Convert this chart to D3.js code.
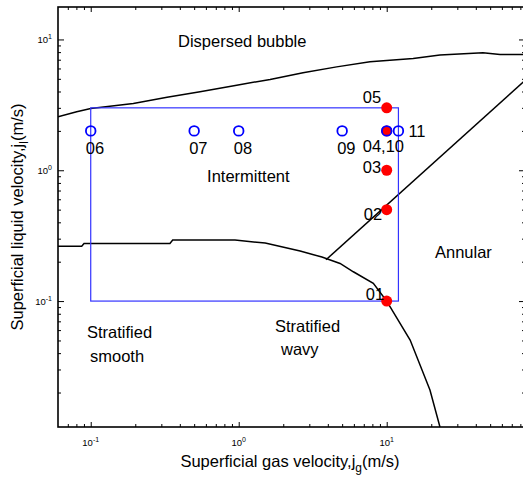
<!DOCTYPE html>
<html>
<head>
<meta charset="utf-8">
<script src="https://cdn.jsdelivr.net/npm/d3@7"></script>
<style>
body { margin: 0; background: #fff; }
text { font-family: "Liberation Sans", Arial, sans-serif; fill: #000; }
</style>
</head>
<body>
<div id="chart"></div>
<script>
// regime boundaries, [jg, jl] in m/s
var bubbleLine = [[0.0601, 2.56], [0.0804, 2.80], [0.1, 2.97], [0.194, 3.24], [0.328, 3.62],
  [0.548, 3.98], [0.969, 4.47], [1.63, 4.95], [2.72, 5.56], [4.59, 6.17], [7.71, 6.74],
  [15.1, 7.16], [22.9, 7.59], [44.7, 7.9], [58.3, 7.68], [86, 7.68]];
var stratLine = [[0.0601, 0.263], [0.0869, 0.263], [0.0901, 0.276], [0.343, 0.276], [0.358, 0.2925],
  [0.944, 0.2925], [1.51, 0.2776], [2.6, 0.241], [3.65, 0.217], [4.84, 0.194], [5.95, 0.1675],
  [8.12, 0.1366], [10, 0.1], [14.4, 0.0504], [19.6, 0.0209], [22.9, 0.0109]];
var annularLine = [[3.89, 0.207], [86, 4.85]];

// test window
var boxJg = [0.1, 12];
var boxJl = [0.1, 3];

// filled test points
var dotNames = ["01", "02", "03", "04", "05"];
var dotJg = [10, 10, 10, 10, 10];
var dotJl = [0.1, 0.5, 1, 2, 3];

// open test points
var ringNames = ["06", "07", "08", "09", "10", "11"];
var ringJg = [0.1, 0.5, 1, 5, 10, 12];
var ringJl = [2, 2, 2, 2, 2, 2];

// regime names, anchored at [jg, jl]
var regionNames = ["Dispersed bubble", "Intermittent", "Annular", "Stratified", "smooth", "Stratified", "wavy"];
var regionJg = [0.389, 0.611, 21.2, 0.0944, 0.0989, 1.758, 1.93];
var regionJl = [8.73, 0.812, 0.2134, 0.0521, 0.0342, 0.058, 0.0386];

var majorTicks = [0.1, 1, 10];

var margin = { top: 7, right: -2, bottom: 51, left: 58 },
  width = 523 - margin.left - margin.right,
  height = 478 - margin.top - margin.bottom;

var svg = d3.select("#chart")
  .append("svg")
  .attr("width", 523)
  .attr("height", 478)
  .append("g")
  .attr("transform", "translate(" + margin.left + "," + margin.top + ")");

var x = d3.scaleLog().domain([0.0601, 86]).range([0, width]);
var y = d3.scaleLog().domain([0.0109, 17.7]).range([height, 0]);

svg.append("clipPath")
  .attr("id", "clip")
  .append("rect")
  .attr("width", width)
  .attr("height", height);

var isMajor = function(v) {
  return majorTicks.some(function(m) { return Math.abs(v / m - 1) < 1e-6; });
};
var minorX = x.ticks().filter(function(v) { return !isMajor(v); });
var minorY = y.ticks().filter(function(v) { return !isMajor(v); });

// inward ticks on all four sides
function addAxis(axis, minor, len, transform) {
  var g = svg.append("g")
    .attr("transform", transform)
    .call(axis.tickValues(minor).tickSize(len).tickFormat(""));
  g.select(".domain").remove();
  g.selectAll("line").attr("stroke", "#000").attr("stroke-width", 1);
}
[[minorX, -3], [majorTicks, -5]].forEach(function(t) {
  addAxis(d3.axisBottom(x), t[0], t[1], "translate(0," + height + ")");
  addAxis(d3.axisTop(x), t[0], t[1], "translate(0,0)");
});
[[minorY, -3], [majorTicks, -6]].forEach(function(t) {
  addAxis(d3.axisLeft(y), t[0], t[1], "translate(0,0)");
  addAxis(d3.axisRight(y), t[0], t[1], "translate(" + width + ",0)");
});

// frame
svg.append("rect")
  .attr("width", width)
  .attr("height", height)
  .attr("fill", "none")
  .attr("stroke", "#000")
  .attr("stroke-width", 1.6);

// tick labels, 10 with a raised exponent
function expLabel(sel, v) {
  sel.append("tspan").text("10");
  sel.append("tspan")
    .attr("dy", -4)
    .attr("font-size", "7px")
    .text(Math.round(Math.log10(v)));
}
majorTicks.forEach(function(v) {
  svg.append("text")
    .attr("x", x(v))
    .attr("y", height + 19)
    .attr("text-anchor", "middle")
    .attr("font-size", "9.5px")
    .call(expLabel, v);
  svg.append("text")
    .attr("x", -6)
    .attr("y", y(v) + 4)
    .attr("text-anchor", "end")
    .attr("font-size", "9.5px")
    .call(expLabel, v);
});

// axis titles
var xTitle = svg.append("text")
  .attr("x", 232)
  .attr("y", height + 40)
  .attr("text-anchor", "middle")
  .attr("font-size", "16.5px");
xTitle.append("tspan").text("Superficial gas velocity,j");
xTitle.append("tspan").attr("dy", 5).attr("font-size", "12px").text("g");
xTitle.append("tspan").attr("dy", -5).text("(m/s)");

var yTitle = svg.append("text")
  .attr("transform", "translate(" + (-35) + "," + (height / 2) + ") rotate(-90)")
  .attr("text-anchor", "middle")
  .attr("font-size", "16.5px");
yTitle.append("tspan").text("Superficial liquid velocity,j");
yTitle.append("tspan").attr("dy", 5).attr("font-size", "12px").text("l");
yTitle.append("tspan").attr("dy", -5).text("(m/s)");

// boundaries
var line = d3.line()
  .x(function(d) { return x(d[0]); })
  .y(function(d) { return y(d[1]); });

var plot = svg.append("g").attr("clip-path", "url(#clip)");

[bubbleLine, stratLine, annularLine].forEach(function(d) {
  plot.append("path")
    .datum(d)
    .attr("d", line)
    .attr("fill", "none")
    .attr("stroke", "#000")
    .attr("stroke-width", 1.5);
});

// test window
plot.append("rect")
  .attr("x", x(boxJg[0]))
  .attr("y", y(boxJl[1]))
  .attr("width", x(boxJg[1]) - x(boxJg[0]))
  .attr("height", y(boxJl[0]) - y(boxJl[1]))
  .attr("fill", "none")
  .attr("stroke", "#3333ff")
  .attr("stroke-width", 1.2);

// region names
regionNames.forEach(function(name, i) {
  svg.append("text")
    .attr("x", x(regionJg[i]))
    .attr("y", y(regionJl[i]))
    .attr("font-size", "16.5px")
    .text(name);
});

// points
dotNames.forEach(function(name, i) {
  svg.append("circle")
    .attr("cx", x(dotJg[i]))
    .attr("cy", y(dotJl[i]))
    .attr("r", 5.5)
    .attr("fill", "#ff0000");
});
ringNames.forEach(function(name, i) {
  svg.append("circle")
    .attr("cx", x(ringJg[i]))
    .attr("cy", y(ringJl[i]))
    .attr("r", 4.8)
    .attr("fill", "none")
    .attr("stroke", "#0000ff")
    .attr("stroke-width", 1.8);
});

// point labels, offset from their point
var labelOffset = {
  "01": [-21, -1], "02": [-23, 10], "03": [-24, 3], "05": [-24, -5],
  "06": [-5, 23], "07": [-5, 23], "08": [-5, 23], "09": [-5, 23], "10": [-24, 21], "11": [10, 6]
};
var labelText = { "10": "04,10" };
var labelPt = dotNames.map(function(n, i) { return [n, dotJg[i], dotJl[i]]; })
  .concat(ringNames.map(function(n, i) { return [n, ringJg[i], ringJl[i]]; }));

labelPt.forEach(function(p) {
  var off = labelOffset[p[0]];
  if (!off) return;
  svg.append("text")
    .attr("x", x(p[1]) + off[0])
    .attr("y", y(p[2]) + off[1])
    .attr("font-size", "16.5px")
    .text(labelText[p[0]] || p[0]);
});
</script>
</body>
</html>
